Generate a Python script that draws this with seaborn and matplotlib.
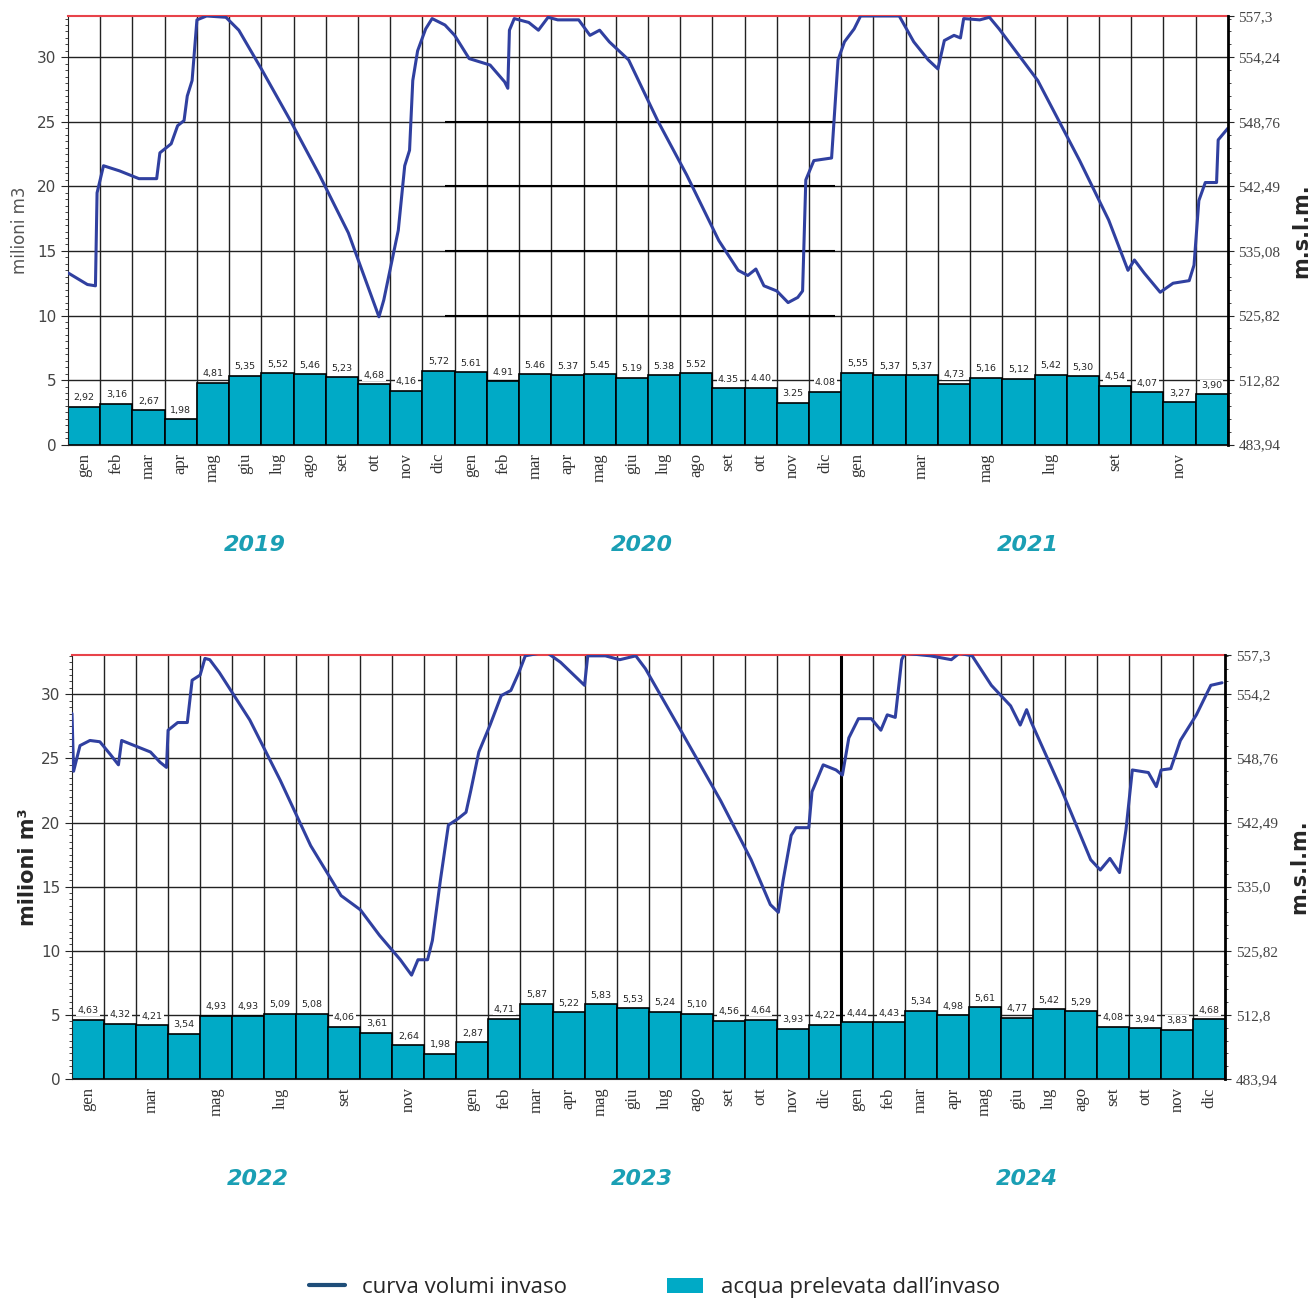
import numpy as np
import pandas as pd
import matplotlib
matplotlib.use("Agg")
from matplotlib import pyplot as plt
from matplotlib.lines import Line2D
from matplotlib.patches import Patch
from matplotlib.ticker import MultipleLocator, FixedLocator
import seaborn as sns

# month abbreviations (Italian)
MONTHS = ["gen", "feb", "mar", "apr", "mag", "giu", "lug", "ago", "set", "ott", "nov", "dic"]

years_top = ["2019", "2020", "2021"]
years_bottom = ["2022", "2023", "2024"]

# acqua prelevata dall'invaso (milioni m3) per month
prelievi_2019 = [2.92, 3.16, 2.67, 1.98, 4.81, 5.35, 5.52, 5.46, 5.23, 4.68, 4.16, 5.72]
prelievi_2020 = [5.61, 4.91, 5.46, 5.37, 5.45, 5.19, 5.38, 5.52, 4.35, 4.40, 3.25, 4.08]
prelievi_2021 = [5.55, 5.37, 5.37, 4.73, 5.16, 5.12, 5.42, 5.30, 4.54, 4.07, 3.27, 3.90]
prelievi_2022 = [4.63, 4.32, 4.21, 3.54, 4.93, 4.93, 5.09, 5.08, 4.06, 3.61, 2.64, 1.98]
prelievi_2023 = [2.87, 4.71, 5.87, 5.22, 5.83, 5.53, 5.24, 5.10, 4.56, 4.64, 3.93, 4.22]
prelievi_2024 = [4.44, 4.43, 5.34, 4.98, 5.61, 4.77, 5.42, 5.29, 4.08, 3.94, 3.83, 4.68]

# decimal separator used in each year's labels
sep_top = [",", ".", ","]
sep_bottom = [",", ",", ","]

# which months get a tick label (every n-th month)
step_top = [1, 1, 2]
step_bottom = [2, 1, 1]

# curva volumi invaso 2019-2021 (x in months from 1 Jan 2019, y in milioni m3)
curve_top_x = [0.0, 0.6, 0.85, 0.9, 1.1, 1.6, 2.2, 2.75, 2.85, 3.2, 3.4, 3.6, 3.7, 3.85, 4.0,
               4.3, 4.9, 5.3, 6.0, 6.9, 7.8, 8.7, 9.65, 9.8, 10.25, 10.45, 10.6, 10.7, 10.85,
               11.1, 11.3, 11.7, 12.0, 12.45, 13.1, 13.55, 13.65, 13.7, 13.85, 14.3, 14.6, 14.9,
               15.2, 15.85, 16.2, 16.5, 16.8, 17.4, 18.3, 19.2, 20.2, 20.8, 21.1, 21.35, 21.6,
               22.0, 22.35, 22.65, 22.8, 22.9, 23.15, 23.7, 23.9, 24.1, 24.4, 24.6, 25.8, 26.25,
               26.7, 27.0, 27.2, 27.5, 27.7, 27.8, 28.3, 28.6, 28.9, 30.1, 31.4, 32.3, 32.9,
               33.1, 33.4, 33.9, 34.3, 34.8, 34.95, 35.1, 35.3, 35.65, 35.7, 36.0]
curve_top_y = [13.3, 12.4, 12.3, 19.5, 21.6, 21.2, 20.6, 20.6, 22.6, 23.3, 24.7, 25.1, 27.0, 28.2, 32.9,
               33.2, 33.1, 32.1, 29.1, 25.1, 20.9, 16.4, 9.9, 11.2, 16.6, 21.6, 22.8, 28.2, 30.5,
               32.2, 33.0, 32.5, 31.7, 29.9, 29.4, 28.1, 27.6, 32.1, 33.0, 32.7, 32.1, 33.1,
               32.9, 32.9, 31.7, 32.1, 31.2, 29.8, 25.1, 20.9, 15.8, 13.5, 13.1, 13.6, 12.3,
               11.9, 11.0, 11.4, 11.9, 20.5, 22.0, 22.2, 29.8, 31.2, 32.2, 33.2, 33.2, 31.2,
               29.8, 29.1, 31.3, 31.7, 31.5, 33.0, 32.9, 33.1, 32.2, 28.2, 22.0, 17.4, 13.5,
               14.3, 13.3, 11.8, 12.5, 12.7, 13.9, 18.9, 20.3, 20.3, 23.6, 24.5]

# curva volumi invaso 2022-2024
curve_bottom_x = [0.0, 0.05, 0.25, 0.56, 0.87, 1.2, 1.45, 1.55, 1.95, 2.45, 2.75, 2.95, 3.0, 3.3,
                  3.6, 3.75, 4.0, 4.15, 4.3, 4.6, 5.55, 6.5, 7.45, 8.4, 9.0, 9.6, 10.25, 10.6,
                  10.8, 11.1, 11.25, 11.5, 11.75, 12.05, 12.3, 12.45, 12.7, 13.05, 13.4, 13.7,
                  13.95, 14.15, 14.8, 15.25, 16.0, 16.1, 16.65, 17.1, 17.6, 17.9, 19.0, 20.25,
                  21.2, 21.8, 22.05, 22.2, 22.45, 22.6, 23.0, 23.1, 23.45, 23.85, 24.05, 24.25,
                  24.55, 24.95, 25.25, 25.45, 25.7, 25.9, 26.0, 26.8, 27.45, 27.7, 28.1, 28.7,
                  29.3, 29.6, 29.8, 29.95, 30.9, 31.8, 32.1, 32.4, 32.7, 32.9, 33.1, 33.6,
                  33.85, 34.0, 34.3, 34.6, 35.1, 35.55, 35.9]
curve_bottom_y = [28.5, 24.0, 26.0, 26.4, 26.3, 25.3, 24.5, 26.4, 26.0, 25.5, 24.7, 24.3, 27.2, 27.8,
                  27.8, 31.1, 31.5, 32.8, 32.7, 31.7, 28.0, 23.3, 18.2, 14.3, 13.2, 11.2, 9.3, 8.1,
                  9.3, 9.3, 10.8, 15.5, 19.8, 20.3, 20.8, 22.5, 25.5, 27.6, 29.9, 30.3,
                  31.7, 33.0, 33.3, 32.5, 30.7, 33.0, 33.0, 32.7, 33.0, 32.0, 27.2, 21.7,
                  17.1, 13.6, 13.0, 15.5, 19.0, 19.6, 19.6, 22.4, 24.5, 24.1, 23.7, 26.6,
                  28.1, 28.1, 27.2, 28.4, 28.2, 32.7, 33.2, 33.0, 32.7, 33.2, 33.0, 30.7,
                  29.1, 27.6, 28.8, 27.8, 22.5, 17.1, 16.3, 17.2, 16.1, 19.4, 24.1, 23.9,
                  22.8, 24.1, 24.2, 26.4, 28.4, 30.7, 30.9]

# right axis (m s.l.m.) labels
right_labels_top = ["483,94", "512,82", "525,82", "535,08", "542,49", "548,76", "554,24", "557,3"]
right_labels_bottom = ["483,94", "512,8", "525,82", "535,0", "542,49", "548,76", "554,2", "557,3"]

BAR_COLOR = "#00aac6"
LINE_COLOR = "#3040a0"
YEAR_COLOR = "#1a9fb4"


def draw_panel(ax, bars, seps, steps, years, cx, cy, right_labels, ytop):
    vals = np.concatenate(bars)
    df = pd.DataFrame({"pos": np.arange(36) + 0.5, "val": vals})
    sns.barplot(data=df, x="pos", y="val", native_scale=True, width=1.0,
                color=BAR_COLOR, saturation=1, edgecolor="black", linewidth=1.2, ax=ax, zorder=2)

    # bar value labels
    for i, v in enumerate(vals):
        s = f"{v:.2f}".replace(".", seps[i // 12])
        ax.text(i + 0.5, v + 0.35, s, ha="center", va="bottom", fontsize=6.8,
                family="DejaVu Sans", zorder=3,
                bbox=dict(facecolor="white", edgecolor="none", pad=0.8))

    curve = pd.DataFrame({"m": cx, "vol": cy})
    sns.lineplot(data=curve, x="m", y="vol", sort=False, estimator=None,
                 color=LINE_COLOR, linewidth=2.2, ax=ax, zorder=4)

    ax.set_xlim(0, 36)
    ax.set_ylim(0, ytop)
    ax.set_xlabel("")
    ax.set_ylabel("")

    # grid: month boundaries and every 5 units
    ax.xaxis.set_major_locator(FixedLocator(np.arange(1, 36)))
    ax.xaxis.set_major_formatter(plt.NullFormatter())
    centers, labels = [], []
    for k in range(3):
        for j in range(0, 12, steps[k]):
            centers.append(12 * k + j + 0.5)
            labels.append(MONTHS[j])
    ax.xaxis.set_minor_locator(FixedLocator(centers))
    ax.set_xticklabels(labels, minor=True, rotation=90, va="top",
                       family="Liberation Serif", fontsize=12, color="#333333")
    ax.tick_params(axis="x", which="major", length=5, direction="out", color="#555555")
    ax.tick_params(axis="x", which="minor", length=0, pad=6)
    ax.grid(axis="x", which="major", color="#222222", linewidth=1.0, zorder=1)

    ax.set_yticks([0, 5, 10, 15, 20, 25, 30])
    ax.yaxis.set_minor_locator(MultipleLocator(0.5))
    ax.tick_params(axis="y", which="major", labelsize=11, labelcolor="#444444", length=5)
    ax.tick_params(axis="y", which="minor", length=2)
    ax.grid(axis="y", which="major", color="#222222", linewidth=1.0, zorder=1)
    ax.set_axisbelow(True)

    for side in ["left", "bottom"]:
        ax.spines[side].set_color("#222222")
    ax.spines["top"].set_color("#e8434a")
    ax.spines["top"].set_linewidth(1.5)
    ax.spines["right"].set_visible(False)

    # right axis with quota (m s.l.m.)
    ax2 = ax.twinx()
    ax2.set_ylim(0, ytop)
    ax2.set_yticks([0, 5, 10, 15, 20, 25, 30, ytop])
    ax2.set_yticklabels(right_labels, family="Liberation Serif", fontsize=11, color="#444444")
    ax2.yaxis.set_minor_locator(MultipleLocator(1))
    ax2.tick_params(axis="y", which="major", length=4)
    ax2.tick_params(axis="y", which="minor", length=2)
    ax2.spines["right"].set_linewidth(2)
    ax2.spines["right"].set_color("black")
    ax2.spines["top"].set_visible(False)
    ax2.spines["left"].set_visible(False)
    ax2.spines["bottom"].set_visible(False)
    ax2.set_ylabel("m.s.l.m.", fontsize=15, fontweight="bold", labelpad=8)

    # year labels
    for k, yr in enumerate(years):
        ax.text(12 * k + 5.8, -0.235, yr, transform=ax.get_xaxis_transform(),
                ha="center", va="center", fontsize=16, fontweight="bold",
                fontstyle="italic", color=YEAR_COLOR, clip_on=False)
    return ax2


sns.set_style("white")
plt.rcParams["font.family"] = ["DejaVu Sans"]

fig = plt.figure(figsize=(13.09, 13.0), dpi=100)
ax_top = fig.add_axes([0.052, 0.658, 0.886, 0.3297])
ax_bot = fig.add_axes([0.055, 0.170, 0.881, 0.326])

draw_panel(ax_top, [prelievi_2019, prelievi_2020, prelievi_2021], sep_top, step_top,
           years_top, curve_top_x, curve_top_y, right_labels_top, 33.2)
draw_panel(ax_bot, [prelievi_2022, prelievi_2023, prelievi_2024], sep_bottom, step_bottom,
           years_bottom, curve_bottom_x, curve_bottom_y, right_labels_bottom, 33.05)

# thicker grid block in 2020 and the 2024 divider
ax_top.hlines([10, 15, 20, 25], 11.7, 23.8, color="black", linewidth=1.5, zorder=1)
ax_bot.axvline(24, color="black", linewidth=2.2, zorder=1)

ax_top.set_ylabel("milioni m3", fontsize=12, color="#555555", labelpad=6)
ax_bot.set_ylabel("milioni m³", fontsize=15, fontweight="bold", labelpad=2)

handles = [Line2D([0], [0], color="#1f4e79", linewidth=3),
           Patch(facecolor=BAR_COLOR, edgecolor="none")]
fig.legend(handles, ["curva volumi invaso", "acqua prelevata dall’invaso"],
           loc="lower center", bbox_to_anchor=(0.5, -0.014), ncol=2, frameon=False,
           columnspacing=4.5, handlelength=1.6,
           prop={"family": "Open Sans", "size": 16})

fig.savefig("out.png", dpi=100)
